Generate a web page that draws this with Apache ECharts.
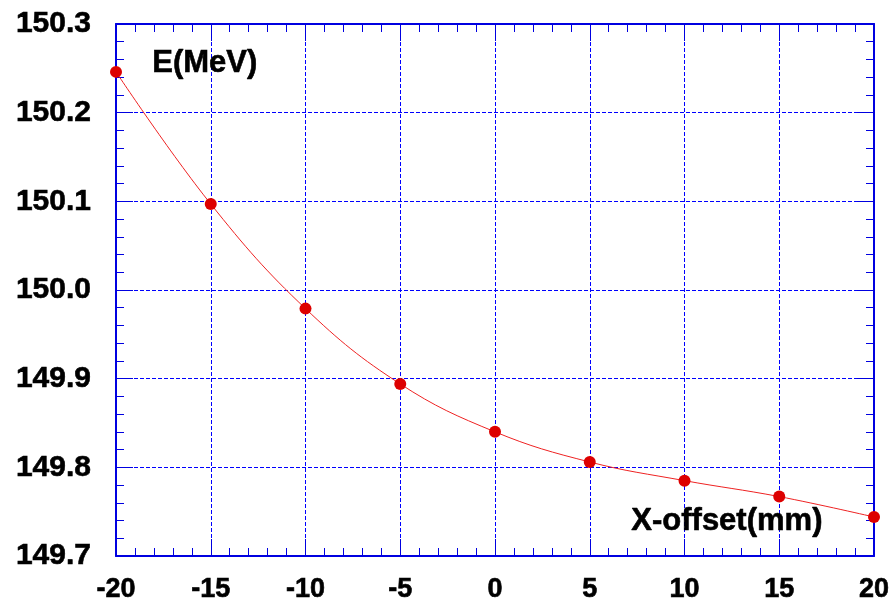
<!DOCTYPE html>
<html><head><meta charset="utf-8">
<script src="https://cdn.jsdelivr.net/npm/echarts@6/dist/echarts.min.js"></script>
<style>html,body{margin:0;padding:0;background:#fff}#c{width:896px;height:610px}</style>
</head><body><div id="c"></div>
<script>
const xOffsets = [-20, -15, -10, -5, 0, 5, 10, 15, 20];
const energies = [150.246, 150.097, 149.979, 149.894, 149.840, 149.806, 149.785, 149.767, 149.744];
const yLabel = 'E(MeV)';
const xLabel = 'X-offset(mm)';

const blue = '#0000e0';
const font = 'Liberation Sans, Arial, sans-serif';
const chart = echarts.init(document.getElementById('c'));
const common = {
  type: 'value',
  axisLine: {show: true, onZero: false, lineStyle: {color: blue, width: 2}},
  axisTick: {show: true, inside: true, length: 17, lineStyle: {color: blue, width: 1}},
  minorTick: {show: true, splitNumber: 5, length: 8, lineStyle: {color: blue, width: 1}},
};
const heavy = {textBorderColor: '#000', textBorderWidth: 0.6};
chart.setOption({
  animation: false,
  grid: {left: 116, right: 22, top: 24, bottom: 54},
  xAxis: [
    Object.assign({}, common, {
      position: 'bottom', min: -20, max: 20, interval: 5,
      axisLabel: Object.assign({color: '#000', fontFamily: font, fontWeight: 'bold', fontSize: 27, margin: 20}, heavy),
      splitLine: {show: true, lineStyle: {color: '#0000ff', type: [4, 2], width: 1}}
    }),
    Object.assign({}, common, {
      position: 'top', min: -20, max: 20, interval: 5,
      axisLabel: {show: false}, splitLine: {show: false}
    })
  ],
  yAxis: [
    Object.assign({}, common, {
      position: 'left', min: 149.7, max: 150.3, interval: 0.1,
      axisLabel: Object.assign({color: '#000', fontFamily: font, fontWeight: 'bold', fontSize: 30, margin: 25,
        formatter: v => v.toFixed(1)}, heavy),
      splitLine: {show: true, lineStyle: {color: '#0000ff', type: [4, 2], width: 1}}
    }),
    Object.assign({}, common, {
      position: 'right', min: 149.7, max: 150.3, interval: 0.1,
      axisLabel: {show: false}, splitLine: {show: false}
    })
  ],
  graphic: [
    {type: 'text', left: 152, top: 48, z: 10, style: Object.assign({text: yLabel, font: 'bold 31px ' + font, fill: '#000', stroke: '#000', lineWidth: 0.6})},
    {type: 'text', left: 631, top: 506, z: 10, style: Object.assign({text: xLabel, font: 'bold 31px ' + font, fill: '#000', stroke: '#000', lineWidth: 0.6})}
  ],
  series: [{
    type: 'line',
    data: xOffsets.map((x, i) => [x, energies[i]]),
    smooth: 0.4,
    symbol: 'circle', symbolSize: 12,
    itemStyle: {color: '#dd0000'},
    lineStyle: {color: '#ee2222', width: 1},
    z: 5
  }]
});
</script></body></html>
